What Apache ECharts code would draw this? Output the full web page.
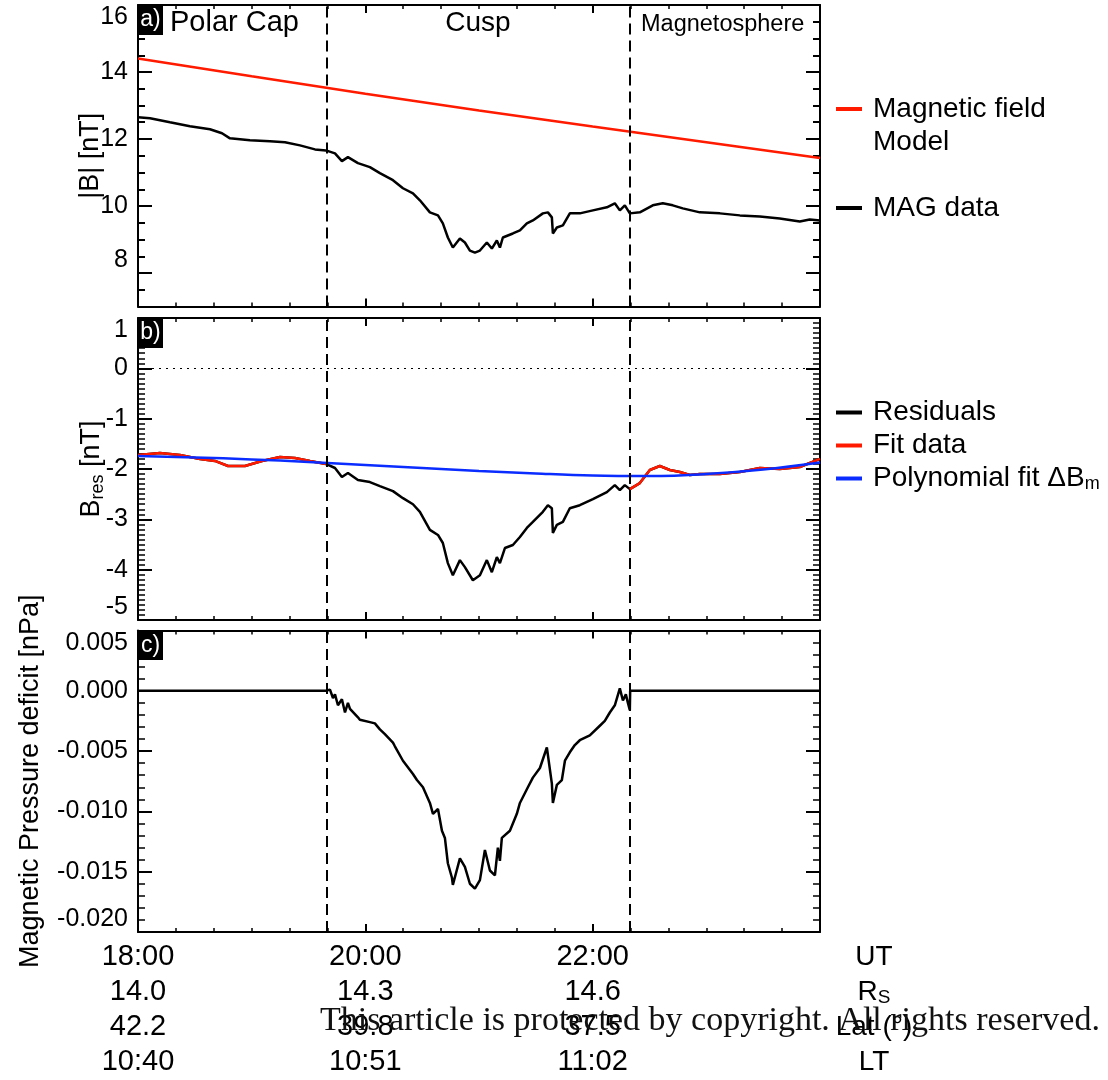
<!DOCTYPE html>
<html><head><meta charset="utf-8">
<script src="https://cdn.jsdelivr.net/npm/echarts@6/dist/echarts.min.js"></script>
<style>html,body{margin:0;padding:0;background:#fff}#c{width:1108px;height:1080px}</style>
</head><body><div id="c"></div>
<script>
// ---------------- data ----------------
const labelHours = [18, 20, 22];
const utLabels  = ['18:00', '20:00', '22:00'];
const rsLabels  = ['14.0', '14.3', '14.6'];
const latLabels = ['42.2', '39.8', '37.5'];
const ltLabels  = ['10:40', '10:51', '11:02'];
const rowTitles = ['UT', 'R_S', 'Lat (°)', 'LT'];
const regionNames = ['Polar Cap', 'Cusp', 'Magnetosphere'];
const boundaries = [19.655, 22.33];   // UT hours of the dashed region boundaries

const modelTime = [18, 19, 20, 21, 22, 23, 24];
const modelB    = [14.40, 13.87, 13.35, 12.85, 12.37, 11.90, 11.43];

const magTime = [18.000,18.106,18.281,18.457,18.633,18.739,18.809,18.985,19.161,19.293,19.425,19.557,19.653,19.733,19.794,19.847,19.935,20.040,20.128,20.243,20.331,20.419,20.480,20.568,20.639,20.682,20.726,20.770,20.832,20.876,20.920,20.964,21.008,21.069,21.113,21.157,21.184,21.210,21.298,21.360,21.421,21.474,21.562,21.606,21.641,21.650,21.685,21.738,21.799,21.887,22.002,22.125,22.195,22.239,22.283,22.327,22.415,22.529,22.617,22.705,22.793,22.943,23.119,23.295,23.471,23.646,23.822,23.910,24.000];
const magB    = [12.65,12.62,12.50,12.38,12.29,12.17,12.02,11.96,11.93,11.90,11.81,11.69,11.66,11.57,11.34,11.46,11.28,11.16,10.98,10.77,10.53,10.38,10.17,9.81,9.72,9.48,9.06,8.76,9.03,8.91,8.67,8.61,8.67,8.91,8.73,8.97,8.76,9.06,9.18,9.27,9.48,9.57,9.78,9.81,9.66,9.18,9.36,9.42,9.78,9.78,9.87,9.96,10.08,9.87,10.02,9.78,9.81,10.02,10.08,10.02,9.93,9.81,9.78,9.72,9.69,9.63,9.54,9.60,9.57];

const resTime = [18.000,18.193,18.369,18.545,18.677,18.792,18.941,19.091,19.249,19.381,19.513,19.653,19.733,19.794,19.847,19.935,20.040,20.128,20.243,20.331,20.419,20.480,20.568,20.639,20.682,20.726,20.770,20.832,20.876,20.946,21.008,21.069,21.113,21.157,21.184,21.228,21.298,21.360,21.421,21.474,21.562,21.606,21.641,21.650,21.685,21.738,21.799,21.887,22.002,22.125,22.195,22.239,22.283,22.327,22.415,22.503,22.591,22.679,22.767,22.855,22.943,23.119,23.295,23.471,23.646,23.822,24.000];
const resB    = [-1.72,-1.68,-1.72,-1.80,-1.84,-1.94,-1.94,-1.84,-1.76,-1.78,-1.84,-1.90,-1.98,-2.16,-2.08,-2.22,-2.26,-2.34,-2.44,-2.58,-2.70,-2.85,-3.21,-3.31,-3.47,-3.87,-4.11,-3.81,-3.95,-4.21,-4.11,-3.81,-4.05,-3.75,-3.87,-3.57,-3.51,-3.35,-3.17,-3.05,-2.85,-2.72,-2.78,-3.27,-3.11,-3.05,-2.78,-2.72,-2.60,-2.46,-2.32,-2.42,-2.32,-2.40,-2.28,-2.02,-1.94,-2.02,-2.06,-2.12,-2.10,-2.10,-2.06,-1.98,-2.00,-1.96,-1.80];

const polyTime = [18, 18.5, 19, 19.5, 20, 20.5, 21, 21.5, 22, 22.5, 23, 23.5, 24];
const polyB    = [-1.74,-1.77,-1.81,-1.86,-1.92,-1.98,-2.04,-2.09,-2.13,-2.14,-2.10,-2.01,-1.87];

const presTime = [18.000,19.653,19.689,19.715,19.733,19.759,19.794,19.821,19.847,19.865,19.935,19.952,20.040,20.084,20.128,20.172,20.243,20.260,20.331,20.419,20.454,20.507,20.568,20.595,20.639,20.674,20.700,20.726,20.762,20.770,20.832,20.876,20.920,20.964,21.008,21.052,21.096,21.140,21.166,21.184,21.201,21.272,21.333,21.360,21.430,21.474,21.536,21.597,21.641,21.650,21.685,21.729,21.756,21.799,21.843,21.887,21.975,22.063,22.107,22.151,22.195,22.239,22.266,22.292,22.310,22.327,22.330,24.000];
const presDef  = [0,0,0.0001,-0.0006,-0.0003,-0.0012,-0.0007,-0.0018,-0.0010,-0.0015,-0.0022,-0.0024,-0.0026,-0.0027,-0.0032,-0.0036,-0.0043,-0.0046,-0.0058,-0.0069,-0.0074,-0.0080,-0.0093,-0.0102,-0.0098,-0.0116,-0.0122,-0.0143,-0.0155,-0.0161,-0.0139,-0.0146,-0.0160,-0.0164,-0.0157,-0.0132,-0.0149,-0.0153,-0.0130,-0.0141,-0.0122,-0.0116,-0.0102,-0.0093,-0.0080,-0.0072,-0.0064,-0.0047,-0.0077,-0.0093,-0.0078,-0.0074,-0.0058,-0.0051,-0.0045,-0.0041,-0.0037,-0.0029,-0.0025,-0.0018,-0.0012,0.0002,-0.0008,-0.0003,-0.0010,-0.0016,0,0];

const panelATicks = [8, 10, 12, 14, 16];

// ---------------- build ----------------
const FONT = '"Liberation Sans", Helvetica, Arial, sans-serif';
const BLK = '#000';
const RED = '#ff1a00';
const BLUE = '#0a2cff';
const pairs = (t, v) => t.map((x, i) => [x, v[i]]);
const fitPairs = resTime.map((t, i) => (t <= boundaries[0] + 1e-6 || t >= boundaries[1] - 0.01) ? [t, resB[i]] : [t, null]);

function xAx(g, pos, withLabels) {
  return {
    type: 'value', gridIndex: g, position: pos, min: 18, max: 24, interval: 2,
    axisLine: { show: true, onZero: false, lineStyle: { color: BLK, width: 2 } },
    axisTick: { show: true, inside: true, length: 8, lineStyle: { color: BLK, width: 2 } },
    minorTick: { show: true, splitNumber: 6, length: 4, lineStyle: { color: BLK, width: 1.5 } },
    splitLine: { show: false }, minorSplitLine: { show: false },
    axisLabel: withLabels ? {
      show: true, margin: 7, showMinLabel: true, showMaxLabel: true, hideOverlap: false,
      formatter: v => {
        const i = labelHours.findIndex(h => Math.abs(h - v) < 1e-6);
        if (i < 0) return '';
        return `{l|${utLabels[i]}}\n{l|${rsLabels[i]}}\n{l|${latLabels[i]}}\n{l|${ltLabels[i]}}`;
      },
      rich: { l: { fontSize: 29, lineHeight: 35, fontFamily: FONT, color: BLK } }
    } : { show: false }
  };
}
const yLabelBase = { show: true, margin: 10, fontSize: 25, fontFamily: FONT, color: BLK, showMinLabel: true, showMaxLabel: true, hideOverlap: false };
function yAx(g, pos, cfg, withLabels) {
  const ax = {
    type: 'value', gridIndex: g, position: pos, min: cfg.min, max: cfg.max, interval: cfg.interval,
    axisLine: { show: true, onZero: false, lineStyle: { color: BLK, width: 2 } },
    axisTick: { show: true, inside: true, length: cfg.tickLen, lineStyle: { color: BLK, width: 2 } },
    minorTick: cfg.minor ? { show: true, splitNumber: cfg.minor, length: 7, lineStyle: { color: BLK, width: 1.5 } } : { show: false },
    splitLine: { show: false }, minorSplitLine: { show: false },
    axisLabel: { show: false }
  };
  if (withLabels) {
    ax.axisLabel = Object.assign({}, yLabelBase, cfg.label || {}, { verticalAlignMaxLabel: 'top', verticalAlignMinLabel: 'bottom' });
    ax.name = cfg.name; ax.nameLocation = 'middle'; ax.nameGap = cfg.nameGap; ax.nameRotate = 90;
    ax.nameMoveOverlap = false;
    ax.nameTextStyle = { fontSize: 27, fontFamily: FONT, color: BLK, rich: cfg.nameRich || undefined };
  }
  return ax;
}
const cfgA = { min: 7, max: 16, interval: 0.5, tickLen: 7, minor: 0, label: { customValues: panelATicks }, name: '|B| [nT]', nameGap: 34 };
const cfgB = { min: -5, max: 1, interval: 1, tickLen: 14, minor: 10, name: '{b|B}{s|res}{b| [nT]}', nameGap: 31,
  nameRich: { b: { fontSize: 27, fontFamily: FONT, color: BLK }, s: { fontSize: 18, fontFamily: FONT, color: BLK, padding: [12, 0, 0, 0] } } };
const cfgC = { min: -0.02, max: 0.005, interval: 0.005, tickLen: 14, minor: 5,
  label: { formatter: v => Math.abs(v) < 1e-9 ? '0.000' : v.toFixed(3) }, name: 'Magnetic Pressure deficit [nPa]', nameGap: 94 };
function majAx(pos) {
  return { type: 'value', gridIndex: 0, position: pos, min: 7, max: 16,
    axisLine: { show: false, onZero: false },
    axisTick: { show: true, inside: true, length: 14, customValues: panelATicks, lineStyle: { color: BLK, width: 2 } },
    splitLine: { show: false }, axisLabel: { show: false } };
}

const bLines = (extra) => ({
  silent: true, symbol: ['none', 'none'], animation: false,
  label: { show: false },
  lineStyle: { color: BLK, width: 2, type: [11, 6] },
  data: boundaries.map(b => ({ xAxis: b })).concat(extra || [])
});

const lineBase = { type: 'line', showSymbol: false, symbol: 'none', animation: false, clip: true, connectNulls: false };

const legBase = { orient: 'vertical', left: 836, padding: 0, icon: 'rect', itemWidth: 26, itemHeight: 4, selectedMode: false, itemGap: 0 };
const legRich = {
  n: { fontFamily: FONT, fontSize: 28, color: BLK, lineHeight: 33 },
  e: { fontFamily: FONT, fontSize: 28, color: BLK, lineHeight: 33 },
  s: { fontFamily: FONT, fontSize: 18, color: BLK, padding: [12, 0, 0, 0] }
};
const legText = { fontFamily: FONT, fontSize: 28, color: BLK, lineHeight: 33, padding: [0, 0, 0, 6], rich: legRich };

const option = {
  backgroundColor: '#fff',
  animation: false,
  grid: [
    { left: 138, top: 5, width: 682, height: 301.5, containLabel: false, outerBoundsMode: 'none' },
    { left: 138, top: 318, width: 682, height: 302, containLabel: false, outerBoundsMode: 'none' },
    { left: 138, top: 630.5, width: 682, height: 301.5, containLabel: false, outerBoundsMode: 'none' }
  ],
  xAxis: [xAx(0, 'bottom'), xAx(0, 'top'), xAx(1, 'bottom'), xAx(1, 'top'), xAx(2, 'bottom', true), xAx(2, 'top')],
  yAxis: [yAx(0, 'left', cfgA, true), yAx(0, 'right', cfgA), yAx(1, 'left', cfgB, true), yAx(1, 'right', cfgB),
          yAx(2, 'left', cfgC, true), yAx(2, 'right', cfgC), majAx('left'), majAx('right')],
  legend: [
    Object.assign({}, legBase, { top: 59.5, data: ['Magnetic field Model'],
      formatter: () => '{e| }\n{n|Magnetic field}\n{n|Model}', textStyle: legText }),
    Object.assign({}, legBase, { top: 191.5, data: ['MAG data'], formatter: n => '{n|' + n + '}', textStyle: legText }),
    Object.assign({}, legBase, { top: 396, data: ['Residuals', 'Fit data', 'Polynomial fit ΔBm'],
      formatter: n => n === 'Polynomial fit ΔBm' ? '{n|Polynomial fit ΔB}{s|m}' : '{n|' + n + '}',
      textStyle: legText })
  ],
  series: [
    Object.assign({}, lineBase, { name: 'Magnetic field Model', xAxisIndex: 0, yAxisIndex: 0, data: pairs(modelTime, modelB),
      itemStyle: { color: RED }, lineStyle: { color: RED, width: 2.5 }, markLine: bLines() }),
    Object.assign({}, lineBase, { name: 'MAG data', xAxisIndex: 0, yAxisIndex: 0, data: pairs(magTime, magB),
      itemStyle: { color: BLK }, lineStyle: { color: BLK, width: 2.5 } }),
    Object.assign({}, lineBase, { name: 'Residuals', xAxisIndex: 2, yAxisIndex: 2, data: pairs(resTime, resB),
      itemStyle: { color: BLK }, lineStyle: { color: BLK, width: 2.5 },
      markLine: bLines([{ yAxis: 0, lineStyle: { color: BLK, width: 1, type: [2, 5] } }]) }),
    Object.assign({}, lineBase, { name: 'Fit data', xAxisIndex: 2, yAxisIndex: 2, data: fitPairs,
      itemStyle: { color: RED }, lineStyle: { color: RED, width: 2.5 } }),
    Object.assign({}, lineBase, { name: 'Polynomial fit ΔBm', xAxisIndex: 2, yAxisIndex: 2, data: pairs(polyTime, polyB), smooth: 0.4,
      itemStyle: { color: BLUE }, lineStyle: { color: BLUE, width: 2.5 } }),
    Object.assign({}, lineBase, { name: 'Pressure deficit', xAxisIndex: 4, yAxisIndex: 4, data: pairs(presTime, presDef),
      itemStyle: { color: BLK }, lineStyle: { color: BLK, width: 2.5 }, markLine: bLines() })
  ],
  graphic: [
    // panel tags
    { type: 'rect', left: 138, top: 5, shape: { width: 25, height: 30 }, style: { fill: BLK }, z: 100 },
    { type: 'text', x: 150.5, y: 20, style: { text: 'a)', fill: '#fff', font: '23px ' + FONT, textAlign: 'center', textVerticalAlign: 'middle' }, z: 101 },
    { type: 'rect', left: 138, top: 318, shape: { width: 25, height: 30 }, style: { fill: BLK }, z: 100 },
    { type: 'text', x: 150.5, y: 333, style: { text: 'b)', fill: '#fff', font: '23px ' + FONT, textAlign: 'center', textVerticalAlign: 'middle' }, z: 101 },
    { type: 'rect', left: 138, top: 631, shape: { width: 25, height: 29 }, style: { fill: BLK }, z: 100 },
    { type: 'text', x: 150.5, y: 645.5, style: { text: 'c)', fill: '#fff', font: '23px ' + FONT, textAlign: 'center', textVerticalAlign: 'middle' }, z: 101 },
    // region names
    { type: 'text', x: 170, y: 23, style: { text: regionNames[0], fill: BLK, font: '29px ' + FONT, textAlign: 'left', textVerticalAlign: 'middle' }, z: 100 },
    { type: 'text', x: 478, y: 23, style: { text: regionNames[1], fill: BLK, font: '28px ' + FONT, textAlign: 'center', textVerticalAlign: 'middle' }, z: 100 },
    { type: 'text', x: 641, y: 25, style: { text: regionNames[2], fill: BLK, font: '23.5px ' + FONT, textAlign: 'left', textVerticalAlign: 'middle' }, z: 100 },
    // row titles
    { type: 'text', x: 874, y: 957, style: { text: rowTitles[0], fill: BLK, font: '28px ' + FONT, textAlign: 'center', textVerticalAlign: 'middle' } },
    { type: 'text', x: 874, y: 992, style: { text: '{n|R}{s|S}', fill: BLK, textAlign: 'center', textVerticalAlign: 'middle',
        rich: { n: { fontSize: 28, fontFamily: FONT, fill: BLK }, s: { fontSize: 19, fontFamily: FONT, fill: BLK, padding: [12, 0, 0, 0] } } } },
    { type: 'text', x: 874, y: 1027, style: { text: rowTitles[2], fill: BLK, font: '28px ' + FONT, textAlign: 'center', textVerticalAlign: 'middle' } },
    { type: 'text', x: 874, y: 1062, style: { text: rowTitles[3], fill: BLK, font: '28px ' + FONT, textAlign: 'center', textVerticalAlign: 'middle' } },
    // watermark
    { type: 'text', x: 320, y: 1021, style: { text: 'This article is protected by copyright. All rights reserved.', fill: '#111',
        font: '34px "Liberation Serif", "DejaVu Serif", serif', textAlign: 'left', textVerticalAlign: 'middle' }, z: 200 }
  ]
};

const chart = echarts.init(document.getElementById('c'), null, { renderer: 'canvas', width: 1108, height: 1080 });
chart.setOption(option);
</script>
</body></html>
